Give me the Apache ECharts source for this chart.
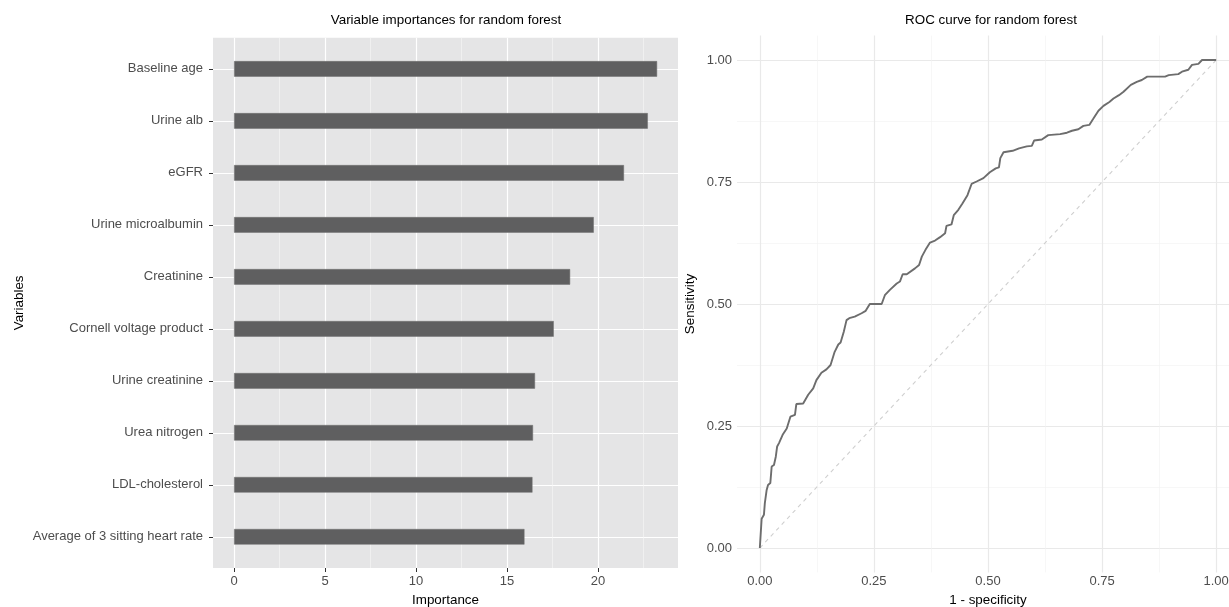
<!DOCTYPE html>
<html><head><meta charset="utf-8">
<script src="https://cdn.jsdelivr.net/npm/echarts@6/dist/echarts.min.js"></script>
<style>html,body{margin:0;padding:0;background:#fff}#c{width:1229px;height:607px}</style>
</head><body><div id="c"></div><script>
// ---- data ----
const categories = ['Baseline age','Urine alb','eGFR','Urine microalbumin','Creatinine','Cornell voltage product','Urine creatinine','Urea nitrogen','LDL-cholesterol','Average of 3 sitting heart rate'];
const importance = [23.25, 22.74, 21.43, 19.77, 18.47, 17.57, 16.54, 16.43, 16.40, 15.96];
const impTicks = [0, 5, 10, 15, 20];
const impMinorTicks = [2.5, 7.5, 12.5, 17.5, 22.5];
const catPositions = [1, 2, 3, 4, 5, 6, 7, 8, 9, 10];
const rocFpr = [0,0.003,0.004,0.009,0.011,0.015,0.018,0.023,0.026,0.031,0.035,0.038,0.042,0.050,0.059,0.067,0.077,0.080,0.095,0.106,0.117,0.124,0.135,0.146,0.155,0.164,0.172,0.177,0.184,0.190,0.196,0.208,0.223,0.232,0.241,0.267,0.274,0.285,0.300,0.307,0.313,0.322,0.340,0.349,0.355,0.363,0.373,0.384,0.395,0.406,0.409,0.420,0.425,0.435,0.444,0.455,0.464,0.475,0.490,0.504,0.517,0.524,0.527,0.534,0.554,0.568,0.585,0.596,0.601,0.618,0.632,0.658,0.673,0.684,0.698,0.709,0.722,0.731,0.742,0.753,0.766,0.775,0.787,0.797,0.813,0.826,0.837,0.849,0.888,0.896,0.917,0.925,0.939,0.947,0.961,0.969,1.0];
const rocTpr = [0,0,0.060,0.068,0.092,0.119,0.129,0.133,0.167,0.170,0.187,0.208,0.215,0.232,0.245,0.269,0.273,0.295,0.296,0.314,0.327,0.344,0.359,0.366,0.375,0.402,0.417,0.421,0.443,0.467,0.471,0.474,0.481,0.486,0.500,0.500,0.518,0.529,0.542,0.546,0.561,0.561,0.573,0.580,0.597,0.611,0.626,0.630,0.637,0.645,0.660,0.663,0.682,0.693,0.706,0.723,0.746,0.751,0.758,0.770,0.778,0.780,0.799,0.811,0.814,0.819,0.823,0.824,0.835,0.837,0.846,0.848,0.851,0.855,0.858,0.865,0.867,0.880,0.896,0.906,0.914,0.921,0.928,0.935,0.949,0.955,0.959,0.966,0.966,0.969,0.971,0.976,0.980,0.990,0.992,1.0,1.0];
const diagX = [0, 1];
const diagY = [0, 1];
const rocTicks = [0, 0.25, 0.5, 0.75, 1];
const rocMinorTicks = [0.125, 0.375, 0.625, 0.875];

// ---- chart ----
const FONT = 'Liberation Sans, Arial, Helvetica, sans-serif';
const tickLabel = {color: '#4d4d4d', fontSize: 13, fontFamily: FONT};
const nameStyle = {color: '#000', fontSize: 13.4, fontFamily: FONT};
const titleStyle = {fontSize: 13.4, fontWeight: 'normal', color: '#000', fontFamily: FONT};
const impMin = -1.16, impMax = 24.4;
const rocMin = -0.05, rocMax = 1.05;

const chart = echarts.init(document.getElementById('c'), null, {renderer: 'canvas'});
chart.setOption({
  animation: false,
  title: [
    {text: 'Variable importances for random forest', left: 446, top: 14, textAlign: 'center', padding: 0, textStyle: titleStyle},
    {text: 'ROC curve for random forest', left: 991, top: 14, textAlign: 'center', padding: 0, textStyle: titleStyle}
  ],
  grid: [
    {left: 213, width: 465, top: 37.7, height: 530.3, show: true, backgroundColor: '#e5e5e6', borderWidth: 0, outerBoundsMode: 'none', containLabel: false},
    {left: 213, width: 465, top: 42.9, height: 519.9, show: false, outerBoundsMode: 'none', containLabel: false},
    {left: 737, width: 502, top: 35.6, height: 536.8, show: false, outerBoundsMode: 'none', containLabel: false}
  ],
  xAxis: [
    {type: 'value', gridIndex: 0, min: impMin, max: impMax,
     name: 'Importance', nameLocation: 'middle', nameGap: 26, nameTextStyle: nameStyle,
     axisLine: {show: false, onZero: false},
     axisTick: {show: true, length: 4, customValues: impTicks, lineStyle: {color: '#333', width: 1}},
     axisLabel: Object.assign({margin: 7, customValues: impTicks}, tickLabel),
     splitLine: {show: true, lineStyle: {color: '#fff', width: 1.2}}},
    {type: 'value', gridIndex: 0, min: impMin, max: impMax,
     axisLine: {show: false, onZero: false}, axisTick: {show: false, customValues: impMinorTicks}, axisLabel: {show: false},
     splitLine: {show: true, lineStyle: {color: '#f6f6f6', width: 0.6}}},
    {type: 'value', gridIndex: 1, min: impMin, max: impMax, show: false, splitLine: {show: false}},
    {type: 'value', gridIndex: 2, min: rocMin, max: rocMax,
     name: '1 - specificity', nameLocation: 'middle', nameGap: 21.5, nameTextStyle: nameStyle,
     axisLine: {show: false, onZero: false},
     axisTick: {show: false, customValues: rocTicks},
     axisLabel: Object.assign({margin: 3, customValues: rocTicks, formatter: v => v.toFixed(2)}, tickLabel),
     splitLine: {show: true, lineStyle: {color: '#e9e9e9', width: 1.2}}},
    {type: 'value', gridIndex: 2, min: rocMin, max: rocMax,
     axisLine: {show: false, onZero: false}, axisTick: {show: false, customValues: rocMinorTicks}, axisLabel: {show: false},
     splitLine: {show: true, lineStyle: {color: '#f2f2f2', width: 0.6}}}
  ],
  yAxis: [
    {type: 'value', gridIndex: 0, min: 0.4, max: 10.6,
     name: 'Variables', nameLocation: 'middle', nameGap: 187, nameTextStyle: nameStyle,
     axisLine: {show: false, onZero: false}, axisTick: {show: false, customValues: catPositions}, axisLabel: {show: false},
     splitLine: {show: true, lineStyle: {color: '#fff', width: 1.2}}},
    {type: 'category', gridIndex: 1, data: categories, inverse: true,
     axisLine: {show: false, onZero: false},
     axisTick: {show: true, alignWithLabel: true, length: 4, lineStyle: {color: '#333', width: 1}},
     axisLabel: Object.assign({margin: 10}, tickLabel),
     splitLine: {show: false}},
    {type: 'value', gridIndex: 2, min: rocMin, max: rocMax,
     name: 'Sensitivity', nameLocation: 'middle', nameGap: 40, nameTextStyle: nameStyle,
     axisLine: {show: false, onZero: false},
     axisTick: {show: false, customValues: rocTicks},
     axisLabel: Object.assign({margin: 5, customValues: rocTicks, formatter: v => v.toFixed(2)}, tickLabel),
     splitLine: {show: true, lineStyle: {color: '#e9e9e9', width: 1.2}}},
    {type: 'value', gridIndex: 2, min: rocMin, max: rocMax,
     axisLine: {show: false, onZero: false}, axisTick: {show: false, customValues: rocMinorTicks}, axisLabel: {show: false},
     splitLine: {show: true, lineStyle: {color: '#f2f2f2', width: 0.6}}}
  ],
  series: [
    {type: 'bar', xAxisIndex: 2, yAxisIndex: 1, data: importance, barWidth: '30%',
     itemStyle: {color: '#5f5f60', borderColor: '#6e6e6e', borderWidth: 0.5}},
    {type: 'line', xAxisIndex: 3, yAxisIndex: 2, data: diagX.map((x, i) => [x, diagY[i]]),
     symbol: 'none', lineStyle: {color: '#cfcfcf', width: 1.1, type: [4, 4]}},
    {type: 'line', xAxisIndex: 3, yAxisIndex: 2, data: rocFpr.map((x, i) => [x, rocTpr[i]]),
     symbol: 'none', lineStyle: {color: '#6d6d6d', width: 1.9}}
  ]
});
</script></body></html>
